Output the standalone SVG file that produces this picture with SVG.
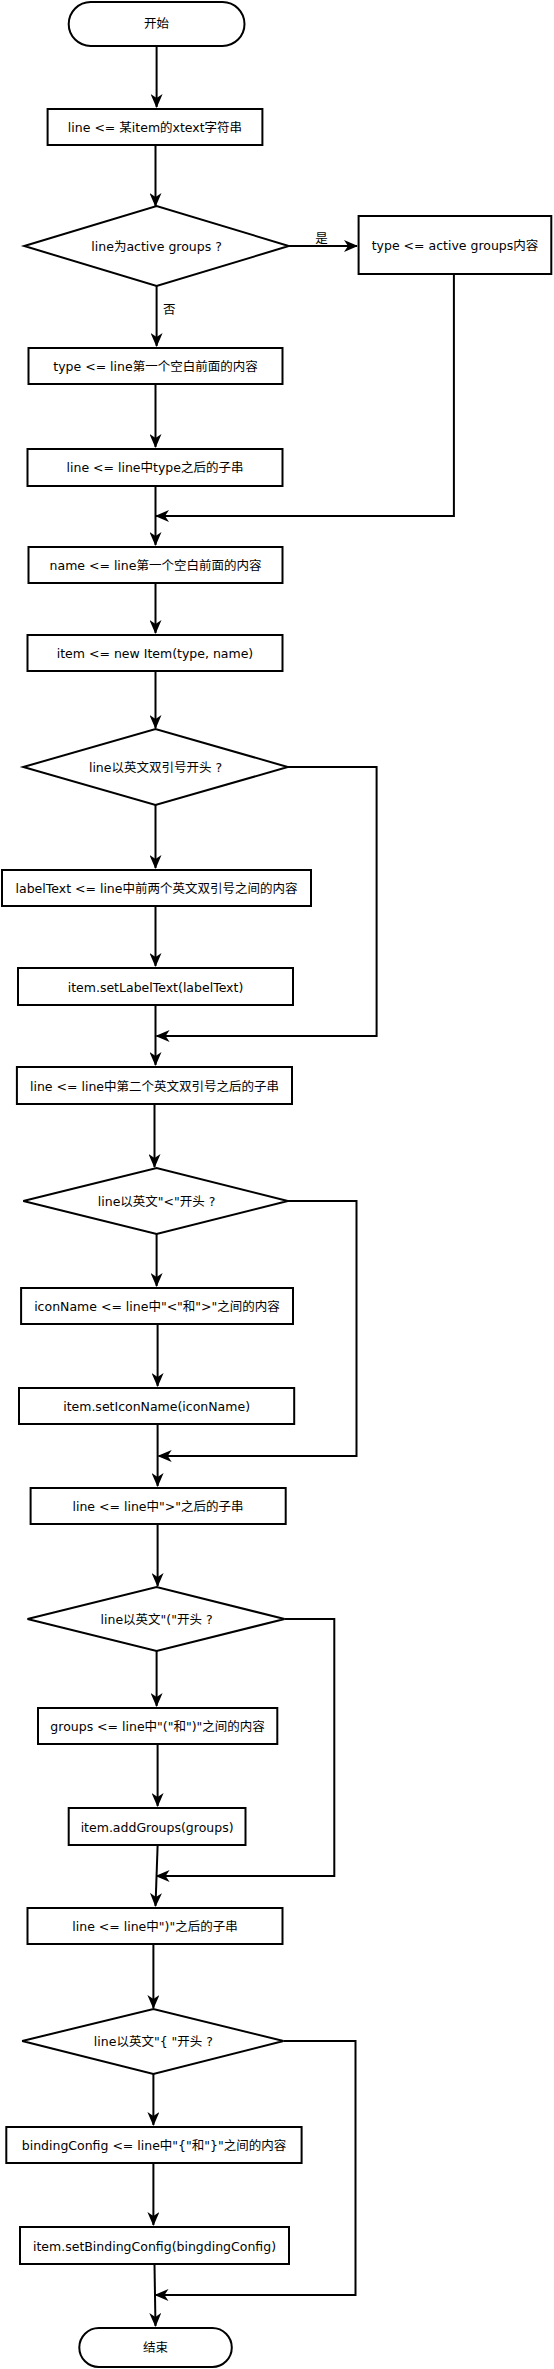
<svg xmlns="http://www.w3.org/2000/svg" width="554" height="2369" viewBox="0 0 554 2369">
<style>
.n{fill:#fff;stroke:#000;stroke-width:2}
.t{font-family:"DejaVu Sans","Noto Sans CJK SC",sans-serif;font-size:12.5px;fill:#000;text-anchor:middle;dominant-baseline:central}
.c{fill:none;stroke:#000;stroke-width:2}
</style>
<defs>
<marker id="a" markerUnits="userSpaceOnUse" viewBox="0 0 14 12" markerWidth="14" markerHeight="12" refX="13" refY="6" orient="auto">
<path d="M0,0 L14,6 L0,12 L4,6 Z" fill="#000"/>
</marker>
</defs>
<rect width="554" height="2369" fill="#fff"/>
<g id="connectors">
<path class="c" marker-end="url(#a)" d="M156.6,46 V107"/>
<path class="c" marker-end="url(#a)" d="M155.5,146 V206"/>
<path class="c" marker-end="url(#a)" d="M288.8,246 H357"/>
<path class="c" marker-end="url(#a)" d="M156.6,286 V346"/>
<path class="c" marker-end="url(#a)" d="M155.5,385 V447"/>
<path class="c" marker-end="url(#a)" d="M155.5,487 V545"/>
<path class="c" marker-end="url(#a)" d="M453.9,275 V516 H156"/>
<path class="c" marker-end="url(#a)" d="M155.5,584 V633"/>
<path class="c" marker-end="url(#a)" d="M155.5,672 V728"/>
<path class="c" marker-end="url(#a)" d="M155.5,805 V868"/>
<path class="c" marker-end="url(#a)" d="M287.8,767 H376.6 V1036 H156.6"/>
<path class="c" marker-end="url(#a)" d="M155.5,907 V966"/>
<path class="c" marker-end="url(#a)" d="M155.5,1006 V1065"/>
<path class="c" marker-end="url(#a)" d="M154.5,1105 V1167"/>
<path class="c" marker-end="url(#a)" d="M156.6,1234 V1286"/>
<path class="c" marker-end="url(#a)" d="M287.8,1201 H356.5 V1456 H158.7"/>
<path class="c" marker-end="url(#a)" d="M157.6,1325 V1386"/>
<path class="c" marker-end="url(#a)" d="M157.6,1425 V1486"/>
<path class="c" marker-end="url(#a)" d="M157.6,1525 V1586"/>
<path class="c" marker-end="url(#a)" d="M156.6,1651 V1706"/>
<path class="c" marker-end="url(#a)" d="M284.6,1619 H334.3 V1876 H156.6"/>
<path class="c" marker-end="url(#a)" d="M157.6,1745 V1806"/>
<path class="c" marker-end="url(#a)" d="M157.6,1846 L155.5,1906"/>
<path class="c" marker-end="url(#a)" d="M153.4,1945 V2008"/>
<path class="c" marker-end="url(#a)" d="M153.4,2074 V2125"/>
<path class="c" marker-end="url(#a)" d="M283.5,2041 H355.5 V2295 H155.5"/>
<path class="c" marker-end="url(#a)" d="M153.4,2164 V2225"/>
<path class="c" marker-end="url(#a)" d="M154.5,2265 L155.5,2326"/>
<text class="t" x="321.6" y="238">是</text>
<text class="t" x="169.3" y="309">否</text>
</g>
<g id="start"><rect class="n" x="68.7" y="2" width="175.8" height="44" rx="22"/><text class="t" x="156.6" y="23">开始</text></g>
<g id="b1"><rect class="n" x="47.6" y="109" width="214.8" height="36"/><text class="t" x="155" y="127">line &lt;= 某item的xtext字符串</text></g>
<g id="d1"><polygon class="n" points="24.3,246 156.6,206 288.8,246 156.6,286"/><text class="t" x="156.6" y="246">line为active groups ?</text></g>
<g id="bt"><rect class="n" x="358.6" y="216" width="192.7" height="58"/><text class="t" x="455" y="245">type &lt;= active groups内容</text></g>
<g id="b2"><rect class="n" x="28.5" y="348" width="254" height="36"/><text class="t" x="155.5" y="366">type &lt;= line第一个空白前面的内容</text></g>
<g id="b3"><rect class="n" x="27.5" y="449" width="255" height="37"/><text class="t" x="155" y="467">line &lt;= line中type之后的子串</text></g>
<g id="b4"><rect class="n" x="28.5" y="547" width="254" height="36"/><text class="t" x="155.5" y="565">name &lt;= line第一个空白前面的内容</text></g>
<g id="b5"><rect class="n" x="27.5" y="635" width="255" height="36"/><text class="t" x="155" y="653">item &lt;= new Item(type, name)</text></g>
<g id="d2"><polygon class="n" points="23.3,767 155.5,729 287.8,767 155.5,805"/><text class="t" x="155.5" y="767">line以英文双引号开头 ?</text></g>
<g id="b6"><rect class="n" x="2" y="870" width="309" height="36"/><text class="t" x="156.5" y="888">labelText &lt;= line中前两个英文双引号之间的内容</text></g>
<g id="b7"><rect class="n" x="18" y="968" width="275" height="37"/><text class="t" x="155.5" y="987">item.setLabelText(labelText)</text></g>
<g id="b8"><rect class="n" x="16.9" y="1067" width="275.1" height="37"/><text class="t" x="154.5" y="1086">line &lt;= line中第二个英文双引号之后的子串</text></g>
<g id="d3"><polygon class="n" points="23.3,1201 156.6,1168 287.8,1201 156.6,1234"/><text class="t" x="156.6" y="1201">line以英文"&lt;"开头 ?</text></g>
<g id="b9"><rect class="n" x="21.1" y="1288" width="271.9" height="36"/><text class="t" x="157" y="1306">iconName &lt;= line中"&lt;"和"&gt;"之间的内容</text></g>
<g id="b10"><rect class="n" x="19" y="1388" width="275.2" height="36"/><text class="t" x="156.6" y="1406">item.setIconName(iconName)</text></g>
<g id="b11"><rect class="n" x="30.6" y="1488" width="255.1" height="36"/><text class="t" x="158" y="1506">line &lt;= line中"&gt;"之后的子串</text></g>
<g id="d4"><polygon class="n" points="27.5,1619 156.6,1587 284.6,1619 156.6,1651"/><text class="t" x="156.6" y="1619">line以英文"("开头 ?</text></g>
<g id="b12"><rect class="n" x="38" y="1708" width="239.3" height="36"/><text class="t" x="157.6" y="1726">groups &lt;= line中"("和")"之间的内容</text></g>
<g id="b13"><rect class="n" x="68.7" y="1808" width="176.8" height="37"/><text class="t" x="157.1" y="1827">item.addGroups(groups)</text></g>
<g id="b14"><rect class="n" x="27.5" y="1908" width="255" height="36"/><text class="t" x="155" y="1926">line &lt;= line中")"之后的子串</text></g>
<g id="d5"><polygon class="n" points="22.2,2041 153.4,2009 283.5,2041 153.4,2074"/><text class="t" x="153.4" y="2041">line以英文"{ "开头 ?</text></g>
<g id="b15"><rect class="n" x="6.3" y="2127" width="295.3" height="36"/><text class="t" x="154" y="2145">bindingConfig &lt;= line中"{"和"}"之间的内容</text></g>
<g id="b16"><rect class="n" x="20" y="2227" width="269" height="37"/><text class="t" x="154.5" y="2246">item.setBindingConfig(bingdingConfig)</text></g>
<g id="end"><rect class="n" x="79.3" y="2328" width="152.5" height="39" rx="19.5"/><text class="t" x="155.5" y="2347">结束</text></g>
</svg>
